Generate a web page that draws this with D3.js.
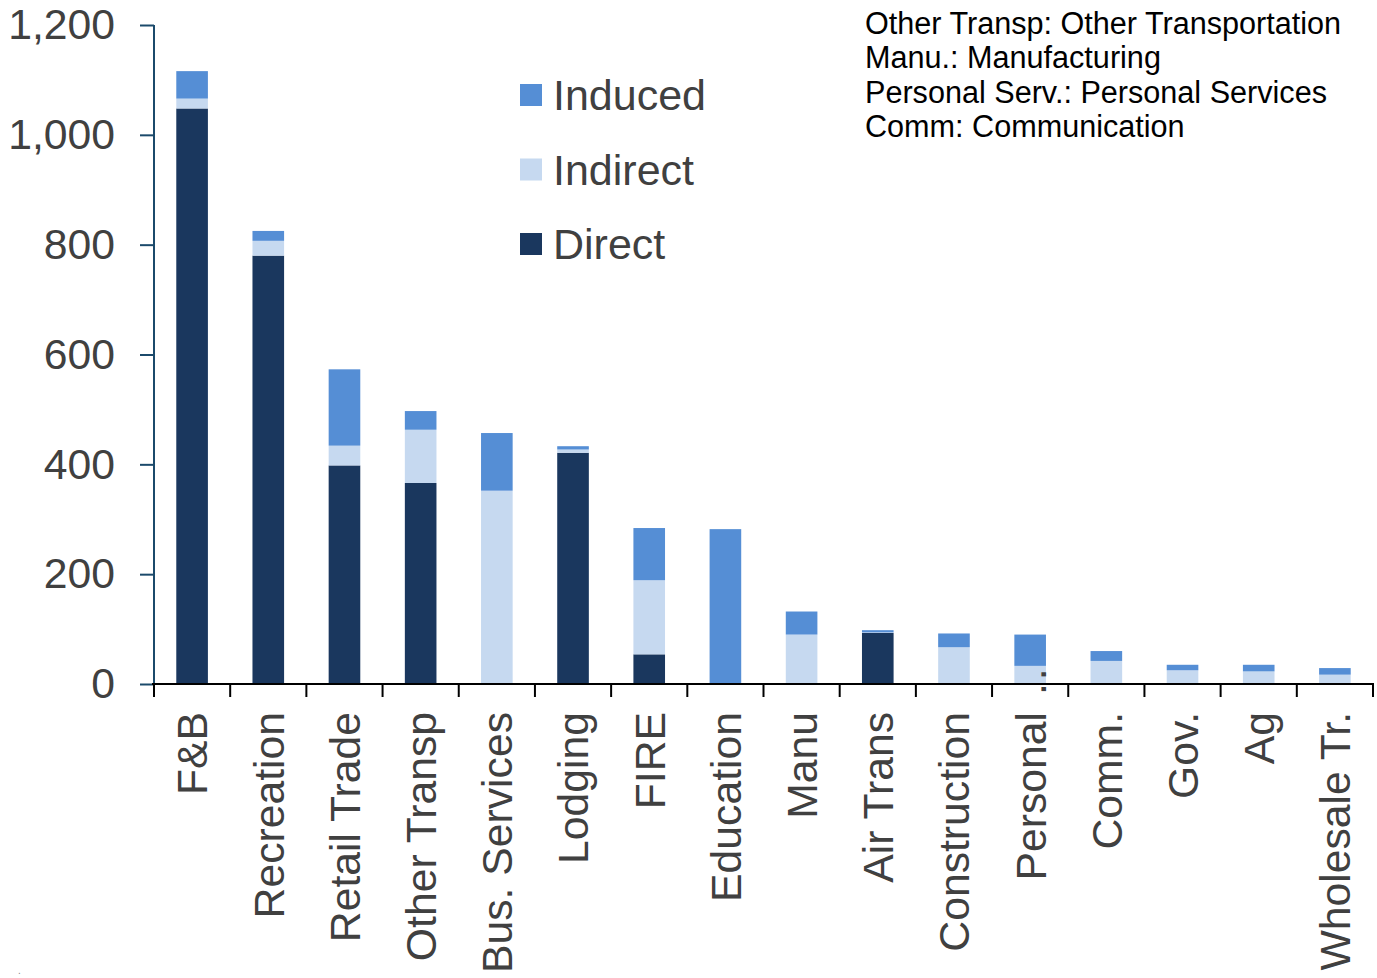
<!DOCTYPE html>
<html>
<head>
<meta charset="utf-8">
<script src="https://cdn.jsdelivr.net/npm/d3@7"></script>
<style>
  html, body { margin: 0; padding: 0; background: #fff; }
  svg { display: block; font-family: "Liberation Sans", Arial, sans-serif; }
</style>
</head>
<body>
<svg id="chart" width="1377" height="978"></svg>
<script>
const categories = ["F&B","Recreation","Retail Trade","Other Transp","Bus. Services","Lodging","FIRE","Education","Manu","Air Trans","Construction","Personal..","Comm.","Gov.","Ag","Wholesale Tr."];
const direct   = [1048, 780, 398, 366,   0, 421,  54,   0,  0, 93,  0,  0,  0,  0,  0,  0];
const indirect = [  18,  27,  36,  97, 352,   6, 135,   0, 90,  1, 67, 33, 42, 25, 23, 17];
const induced  = [  50,  18, 139,  34, 105,   6,  95, 282, 42,  4, 25, 57, 18, 10, 12, 12];
const seriesNames = ["Direct", "Indirect", "Induced"];
const yTicks = [0, 200, 400, 600, 800, 1000, 1200];
const legendOrder = ["Induced", "Indirect", "Direct"];
const notes = ["Other Transp: Other Transportation", "Manu.: Manufacturing", "Personal Serv.: Personal Services", "Comm: Communication"];

const colors = { Direct: "#1a375e", Indirect: "#c6d9f0", Induced: "#558ed5" };
const textColor = "#404040";

const svg = d3.select("#chart");
const x = d3.scaleBand().domain(categories).range([154, 1373]).padding(0);
const y = d3.scaleLinear().domain([0, 1200]).range([684, 25]);

const rows = categories.map((c, i) => ({ cat: c, Direct: direct[i], Indirect: indirect[i], Induced: induced[i] }));
const stacked = d3.stack().keys(seriesNames)(rows);
const barW = x.bandwidth() * 0.415;

svg.append("g").selectAll("g").data(stacked).join("g")
  .attr("fill", d => colors[d.key])
  .selectAll("rect").data(d => d).join("rect")
  .attr("x", d => x(d.data.cat) + (x.bandwidth() - barW) / 2)
  .attr("width", barW)
  .attr("y", d => y(d[1]))
  .attr("height", d => Math.max(0, y(d[0]) - y(d[1])));

// Y axis
const yAxis = svg.append("g").attr("transform", "translate(154,0)")
  .call(d3.axisLeft(y).tickValues(yTicks).tickSize(14).tickPadding(25).tickFormat(d3.format(",")));
yAxis.select(".domain").attr("stroke", "#1b4a6b").attr("stroke-width", 2).attr("d", "M0,25V684");
yAxis.selectAll(".tick line").attr("stroke", "#1b4a6b").attr("stroke-width", 2);
yAxis.selectAll(".tick text").attr("font-size", 42.7).attr("fill", textColor)
  .attr("font-family", "Liberation Sans, Arial, sans-serif");

// X axis line and ticks at boundaries
const xg = svg.append("g");
const bounds = categories.map(c => x(c)).concat([x.range()[1]]);
xg.append("line").attr("x1", 152).attr("x2", 1374).attr("y1", 684).attr("y2", 684)
  .attr("stroke", "#000").attr("stroke-width", 2);
xg.selectAll("line.t").data(bounds).join("line").attr("class", "t")
  .attr("x1", d => d).attr("x2", d => d).attr("y1", 684).attr("y2", 697)
  .attr("stroke", "#000").attr("stroke-width", 2);

// X labels
categories.forEach(c => {
  const cx = x(c) + x.bandwidth() / 2;
  const m = c.match(/^(.*?)(\.\.)$/);
  const base = m ? m[1] : c;
  const g = svg.append("g").attr("transform", `translate(${cx},712) rotate(-90)`);
  g.append("text").attr("text-anchor", "end").attr("dy", "0.36em")
    .attr("font-size", 42.7).attr("fill", textColor).text(base);
  if (m) {
    g.append("text").attr("text-anchor", "start").attr("x", 17).attr("dy", "0.36em")
      .attr("letter-spacing", 3)
      .attr("font-size", 42.7).attr("fill", textColor).text(m[2]);
  }
});

// Legend
const lg = svg.append("g");
legendOrder.forEach((k, i) => {
  const cy = 95 + i * 74.5;
  lg.append("rect").attr("x", 520).attr("y", cy - 11).attr("width", 22).attr("height", 22).attr("fill", colors[k]);
  lg.append("text").attr("x", 553).attr("y", cy).attr("dy", "0.36em")
    .attr("font-size", 43).attr("fill", textColor).text(k);
});

// Notes
notes.forEach((t, i) => {
  svg.append("text").attr("x", 865).attr("y", 34 + i * 34.3)
    .attr("font-size", 30.6).attr("fill", "#000").text(t);
});

// tiny mark bottom-left
svg.append("text").attr("x", 18).attr("y", 974).attr("font-size", 10).attr("fill", "#888").text(".");
</script>
</body>
</html>
